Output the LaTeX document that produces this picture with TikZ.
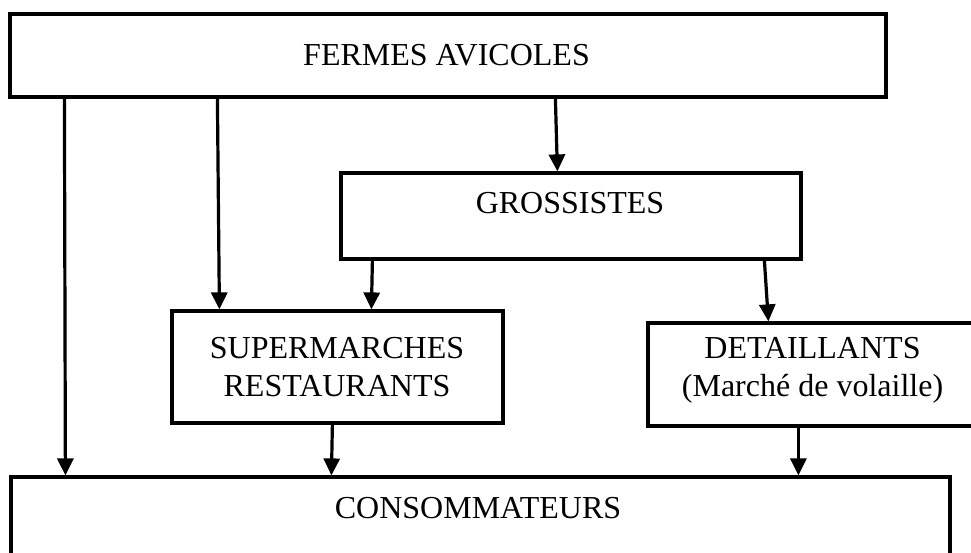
\documentclass[tikz,border=0pt]{standalone}
\usepackage{fontspec}
\setmainfont{Liberation Serif}
\usetikzlibrary{arrows.meta,calc}
\begin{document}
\begin{tikzpicture}[x=1pt,y=-1pt,
  box/.style={draw,line width=3.2pt,minimum width=#1,inner sep=0pt},
  lbl/.style={anchor=base,align=center,inner sep=0pt,font=\fontsize{32}{38.7}\selectfont},
  arr/.style={line width=3.2pt,-{Triangle[width=16pt,length=17pt]}}]
\useasboundingbox (0,0) rectangle (971,552);
\clip (0,0) rectangle (971,552);
\fill[white] (0,0) rectangle (971,552);
% boxes
\node[box=876pt,minimum height=83pt]  (fermes) at (448,55.5) {};
\node[box=460pt,minimum height=86pt]  (gross)  at (571,216) {};
\node[box=331pt,minimum height=112pt] (super)  at (337.5,367) {};
\node[box=342pt,minimum height=103pt] (detail) at (819,374.5) {};
\node[box=939pt,minimum height=93pt]  (conso)  at (480.5,523.5) {};
% texts
\node[lbl] (fermesT) at (446.5,65) {FERMES AVICOLES};
\node[lbl] (grossT)  at (570,213.3) {GROSSISTES};
\node[lbl] (superT)  at (337,396.7) {SUPERMARCHES\\RESTAURANTS};
\node[lbl] (detailT) at (812.5,396.7) {DETAILLANTS\\(Marché de volaille)};
\node[lbl] (consoT)  at (478,518) {CONSOMMATEURS};
% connectors
\draw[arr] ($(fermes.south west)+(56,0)$)  -- ($(conso.north west)+(56,0)$);
\draw[arr] ($(fermes.south west)+(209,0)$) -- ($(super.north west)+(49,0)$);
\draw[arr] ($(fermes.south west)+(547,0)$) -- ($(gross.north west)+(218,0)$);
\draw[arr] ($(gross.south west)+(33,0)$)   -- ($(super.north west)+(201,0)$);
\draw[arr] ($(gross.south west)+(425,0)$)  -- ($(detail.north west)+(122,0)$);
\draw[arr] ($(super.south west)+(162,0)$)  -- ($(conso.north west)+(322,0)$);
\draw[arr] ($(detail.south west)+(152,0)$) -- ($(conso.north west)+(789,0)$);
\end{tikzpicture}
\end{document}
